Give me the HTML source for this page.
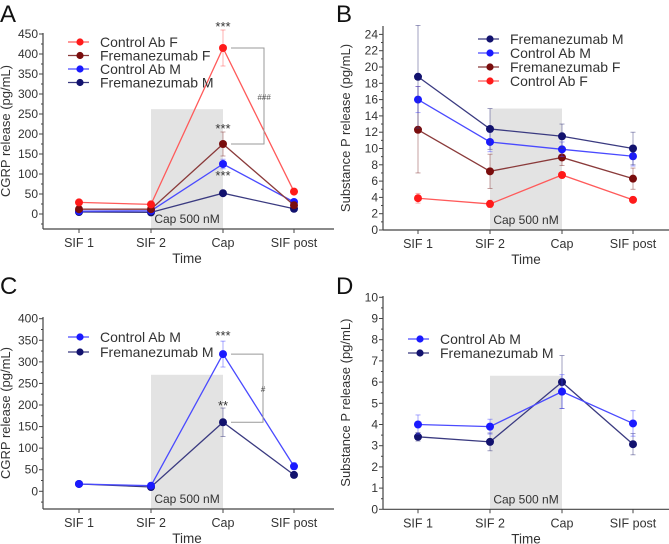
<!DOCTYPE html>
<html><head><meta charset="utf-8"><style>
html,body{margin:0;padding:0;background:#fff;}
svg{display:block;font-family:"Liberation Sans",Arial,sans-serif;}
</style></head><body>
<svg id="chart" width="669" height="544" viewBox="0 0 669 544"></svg>
<script>
const categories = ["SIF 1","SIF 2","Cap","SIF post"];
// Panel A
const aCtrlF = [29,24,415,56], aCtrlFErr = [3,3,45,5];
const aFremF = [12,12,175,22], aFremFErr = [2,2,30,3];
const aCtrlM = [7,8,125,30], aCtrlMErr = [2,2,12,4];
const aFremM = [5,4,52,13], aFremMErr = [1,1,5,2];
const aTicks = [0,50,100,150,200,250,300,350,400,450];
// Panel B
const bFremM = [18.8,12.4,11.5,10.0], bFremMErr = [6.3,2.5,1.5,2.0];
const bCtrlM = [16.0,10.8,9.9,9.05], bCtrlMErr = [1.6,1.2,0.9,1.2];
const bFremF = [12.3,7.2,8.9,6.3], bFremFErr = [5.3,2.1,1.0,1.3];
const bCtrlF = [3.9,3.2,6.75,3.7], bCtrlFErr = [0.6,0.45,0.2,0.35];
const bTicks = [0,2,4,6,8,10,12,14,16,18,20,22,24];
// Panel C
const cCtrlM = [17,13,318,58], cCtrlMErr = [2,2,30,8];
const cFremM = [17,10,160,38], cFremMErr = [2,2,33,3];
const cTicks = [0,50,100,150,200,250,300,350,400];
// Panel D
const dCtrlM = [4.0,3.9,5.55,4.05], dCtrlMErr = [0.45,0.35,0.8,0.6];
const dFremM = [3.42,3.18,6.0,3.07], dFremMErr = [0.2,0.42,1.25,0.5];
const dTicks = [0,1,2,3,4,5,6,7,8,9,10];

const NS = "http://www.w3.org/2000/svg";
const svg = document.getElementById("chart");
function mk(tag, attrs, parent, text){
  const e = document.createElementNS(NS, tag);
  for (const k in attrs) e.setAttribute(k, attrs[k]);
  if (text !== undefined) e.textContent = text;
  (parent || svg).appendChild(e);
  return e;
}
const COL = {ctrlF:"#ff1a1a", fremF:"#7a0d0d", ctrlM:"#1a1aff", fremM:"#12126e"};
const LCOL = {ctrlF:"#ff5a5a", fremF:"#8a3a3a", ctrlM:"#4a4aff", fremM:"#3a3a80"};

function panel(cfg){
  const g = mk("g", {});
  
  
  const y = v => cfg.y0 - (v - cfg.v0) * cfg.k;
  const x = i => cfg.xs[i];
  const sh = mk("rect", {x:cfg.xs[1], y:y(cfg.shadeTop), width:cfg.xs[2]-cfg.xs[1], height:cfg.axisBottom - y(cfg.shadeTop), fill:"#e3e3e3"}, g);
  
  
  const st = mk("text", {x:(cfg.xs[1]+cfg.xs[2])/2, y:cfg.axisBottom-6, "text-anchor":"middle", "font-size":"12", fill:"#333"}, g, "Cap 500 nM");
  
  
  mk("line", {x1:cfg.axisLeft, y1:cfg.axisTop, x2:cfg.axisLeft, y2:cfg.axisBottom, stroke:"#444", "stroke-width":1.2}, g);
  mk("line", {x1:cfg.axisLeft, y1:cfg.axisBottom, x2:cfg.axisRight, y2:cfg.axisBottom, stroke:"#444", "stroke-width":1.2}, g);
  cfg.ticks.forEach((t, i) => {
    const yy = y(t);
    mk("line", {x1:cfg.axisLeft-4, y1:yy, x2:cfg.axisLeft, y2:yy, stroke:"#444"}, g);
    const lab = mk("text", {x:cfg.axisLeft-5, y:yy+4, "text-anchor":"end", "font-size":"12", fill:"#333"}, g, String(t));
    
    
    if (i < cfg.ticks.length - 1) {
      const m = y((t + cfg.ticks[i+1]) / 2);
      mk("line", {x1:cfg.axisLeft-2, y1:m, x2:cfg.axisLeft, y2:m, stroke:"#444"}, g);
    }
  });
  if (cfg.extraMinor) mk("line", {x1:cfg.axisLeft-2, y1:y(cfg.extraMinor), x2:cfg.axisLeft, y2:y(cfg.extraMinor), stroke:"#444"}, g);
  categories.forEach((c, i) => {
    mk("line", {x1:x(i), y1:cfg.axisBottom, x2:x(i), y2:cfg.axisBottom+4, stroke:"#444"}, g);
    const lab = mk("text", {x:x(i), y:cfg.axisBottom+18, "text-anchor":"middle", "font-size":"12.5", fill:"#333"}, g, c);
    
    
  });
  const xt = mk("text", {x:(cfg.xs[1]+cfg.xs[2])/2, y:cfg.axisBottom+34, "text-anchor":"middle", "font-size":"13.5", fill:"#333"}, g, "Time");
  
  
  const ytc = (cfg.axisTop + cfg.axisBottom) / 2;
  const yt = mk("text", {x:cfg.ytx, y:ytc, "text-anchor":"middle", "font-size":"13", fill:"#333", transform:`rotate(-90 ${cfg.ytx} ${ytc})`}, g, cfg.ytitle);
  
  
  const pl = mk("text", {x:cfg.lx, y:cfg.ly, "font-size":"24", fill:"#111"}, g, cfg.letter);
  
  
  cfg.series.forEach(s => {
    const pts = s.vals.map((v, i) => x(i) + "," + y(v)).join(" ");
    const line = mk("polyline", {points:pts, fill:"none", stroke:LCOL[s.c], "stroke-width":1.3}, g);
    
    
    s.vals.forEach((v, i) => {
      const e = s.err[i];
      mk("line", {x1:x(i), y1:y(v-e), x2:x(i), y2:y(v+e), stroke:LCOL[s.c], "stroke-width":0.8, opacity:0.6}, g);
      mk("line", {x1:x(i)-2.5, y1:y(v+e), x2:x(i)+2.5, y2:y(v+e), stroke:LCOL[s.c], "stroke-width":0.8, opacity:0.6}, g);
      mk("line", {x1:x(i)-2.5, y1:y(v-e), x2:x(i)+2.5, y2:y(v-e), stroke:LCOL[s.c], "stroke-width":0.8, opacity:0.6}, g);
      const p = mk("circle", {cx:x(i), cy:y(v), r:4, fill:COL[s.c]}, g);
      
      
    });
  });
  cfg.legend.forEach((s, i) => {
    const ly = cfg.legY + i * cfg.legDy;
    const lg = mk("g", {}, g);
    
    
    mk("line", {x1:cfg.legX-12, y1:ly, x2:cfg.legX+12, y2:ly, stroke:LCOL[s.c], "stroke-width":1.3, "stroke-dasharray":"9 3"}, lg);
    mk("circle", {cx:cfg.legX, cy:ly, r:3.6, fill:COL[s.c]}, lg);
    mk("text", {x:cfg.legX+20, y:ly+5, "font-size":"14", fill:"#333"}, lg, s.label);
  });
  (cfg.stars || []).forEach(s => {
    const t = mk("text", {x:x(2), y:y(s.v)+5, "text-anchor":"middle", "font-size":"13", fill:"#333"}, g, s.t);
    
    
  });
  if (cfg.bracket) {
    const b = cfg.bracket, bx = x(2) + 8, ex = b.x;
    mk("polyline", {points:`${bx},${y(b.hi)} ${ex},${y(b.hi)} ${ex},${y(b.lo)} ${bx},${y(b.lo)}`, fill:"none", stroke:"#999", "stroke-width":1}, g);
    const t = mk("text", {x:ex, y:(y(b.hi)+y(b.lo))/2+4, "text-anchor":"middle", "font-size":"8", "font-style":"italic", fill:"#555"}, g, b.t);
    
    
  }
}

const xsL = [79,151,223,294], xsR = [418,490,562,633];
panel({name:"panel-a", letter:"A", lx:0, ly:22, xs:xsL, y0:214, v0:0, k:0.4, ticks:aTicks, extraMinor:-25,
  axisLeft:43, axisRight:334, axisTop:33, axisBottom:229, shadeTop:262, ytx:10, ytitle:"CGRP release (pg/mL)",
  series:[{id:"fremanezumab-m",c:"fremM",vals:aFremM,err:aFremMErr},{id:"control-ab-m",c:"ctrlM",vals:aCtrlM,err:aCtrlMErr},
          {id:"fremanezumab-f",c:"fremF",vals:aFremF,err:aFremFErr},{id:"control-ab-f",c:"ctrlF",vals:aCtrlF,err:aCtrlFErr}],
  legend:[{c:"ctrlF",label:"Control Ab F"},{c:"fremF",label:"Fremanezumab F"},{c:"ctrlM",label:"Control Ab M"},{c:"fremM",label:"Fremanezumab M"}],
  legX:80, legY:42, legDy:13.5,
  stars:[{v:470,t:"***"},{v:215,t:"***"},{v:97,t:"***"}],
  bracket:{x:264, hi:415, lo:175, t:"###"}});
panel({name:"panel-b", letter:"B", lx:336, ly:22, xs:xsR, y0:230, v0:0, k:8.15, ticks:bTicks,
  axisLeft:383, axisRight:669, axisTop:26, axisBottom:230, shadeTop:14.9, ytx:350, ytitle:"Substance P release (pg/mL)",
  series:[{id:"control-ab-f",c:"ctrlF",vals:bCtrlF,err:bCtrlFErr},{id:"fremanezumab-f",c:"fremF",vals:bFremF,err:bFremFErr},
          {id:"control-ab-m",c:"ctrlM",vals:bCtrlM,err:bCtrlMErr},{id:"fremanezumab-m",c:"fremM",vals:bFremM,err:bFremMErr}],
  legend:[{c:"fremM",label:"Fremanezumab M"},{c:"ctrlM",label:"Control Ab M"},{c:"fremF",label:"Fremanezumab F"},{c:"ctrlF",label:"Control Ab F"}],
  legX:490, legY:39, legDy:14});
panel({name:"panel-c", letter:"C", lx:0, ly:294, xs:xsL, y0:491.3, v0:0, k:0.4315, ticks:cTicks, extraMinor:-25,
  axisLeft:43, axisRight:334, axisTop:317, axisBottom:509, shadeTop:270, ytx:10, ytitle:"CGRP release (pg/mL)",
  series:[{id:"fremanezumab-m",c:"fremM",vals:cFremM,err:cFremMErr},{id:"control-ab-m",c:"ctrlM",vals:cCtrlM,err:cCtrlMErr}],
  legend:[{c:"ctrlM",label:"Control Ab M"},{c:"fremM",label:"Fremanezumab M"}],
  legX:80, legY:337, legDy:15,
  stars:[{v:362,t:"***"},{v:200,t:"**"}],
  bracket:{x:263, hi:318, lo:160, t:"#"}});
panel({name:"panel-d", letter:"D", lx:336, ly:294, xs:xsR, y0:509.3, v0:0, k:21.2, ticks:dTicks,
  axisLeft:383, axisRight:669, axisTop:296, axisBottom:509.3, shadeTop:6.3, ytx:350, ytitle:"Substance P release (pg/mL)",
  series:[{id:"fremanezumab-m",c:"fremM",vals:dFremM,err:dFremMErr},{id:"control-ab-m",c:"ctrlM",vals:dCtrlM,err:dCtrlMErr}],
  legend:[{c:"ctrlM",label:"Control Ab M"},{c:"fremM",label:"Fremanezumab M"}],
  legX:420, legY:339, legDy:14});
</script>
</body></html>
